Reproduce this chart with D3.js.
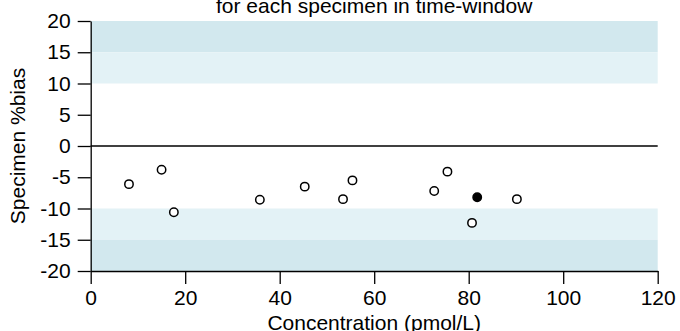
<!DOCTYPE html>
<html><head><meta charset="utf-8">
<script src="https://cdn.jsdelivr.net/npm/d3@7"></script>
<style>
html,body{margin:0;padding:0;background:#fff;}
svg{display:block;}
text{font-family:"Liberation Sans",Arial,Helvetica,sans-serif;fill:#000;}
</style></head>
<body>
<svg id="chart" width="680" height="331"></svg>
<script>
const concentration = [8.1, 15.0, 17.6, 35.8, 45.3, 53.4, 55.4, 72.7, 75.5, 80.7, 81.8, 90.2];
const biasPct       = [-6.1, -3.8, -10.6, -8.6, -6.5, -8.5, -5.5, -7.2, -4.1, -12.3, -8.2, -8.5];
const filledFlag    = [false, false, false, false, false, false, false, false, false, false, true, false];
const xTicks = [0, 20, 40, 60, 80, 100, 120];
const yTicks = [-20, -15, -10, -5, 0, 5, 10, 15, 20];
const bandLow  = [15, 10, -15, -20];
const bandHigh = [20, 15, -10, -15];
const bandKind = ["outer", "inner", "inner", "outer"];
const titleText = "for each specimen in time-window";
const xTitle = "Concentration (pmol/L)";
const yTitle = "Specimen %bias";

const svg = d3.select("#chart");
const L = 90.7, R = 657.7, T = 21, B = 271;
const x = d3.scaleLinear().domain([0, 120]).range([L, R]);
const y = d3.scaleLinear().domain([-20, 20]).range([B, T]);
const bandColor = {outer: "#d2e8ee", inner: "#e3f2f6"};
const FS = 21;

// bands
svg.append("g").selectAll("rect").data(bandLow).join("rect")
  .attr("x", x(0)).attr("width", x(120) - x(0))
  .attr("y", (d, i) => y(bandHigh[i]))
  .attr("height", (d, i) => y(bandLow[i]) - y(bandHigh[i]))
  .attr("fill", (d, i) => bandColor[bandKind[i]]);

// zero line
svg.append("line").attr("x1", x(0)).attr("x2", x(120))
  .attr("y1", y(0)).attr("y2", y(0)).attr("stroke", "#000").attr("stroke-width", 1.3);

// y axis
const yAxis = svg.append("g").attr("transform", `translate(${L},0)`)
  .call(d3.axisLeft(y).tickValues(yTicks).tickSize(13).tickSizeOuter(0).tickPadding(7).tickFormat(d3.format("d")));
// x axis
const xAxis = svg.append("g").attr("transform", `translate(0,${B})`)
  .call(d3.axisBottom(x).tickValues(xTicks).tickSize(13).tickSizeOuter(0).tickPadding(6).tickFormat(d3.format("d")));
[yAxis, xAxis].forEach(g => {
  g.selectAll("path.domain").attr("stroke", "#000").attr("stroke-width", 1.3);
  g.selectAll(".tick line").attr("stroke", "#000").attr("stroke-width", 1.3);
  g.selectAll(".tick text").attr("font-size", FS).attr("fill", "#000")
    .style("font-family", '"Liberation Sans",Arial,Helvetica,sans-serif');
});
yAxis.selectAll(".tick text").text(d => d < 0 ? "-" + Math.abs(d) : d);
yAxis.attr("font-size", FS);
xAxis.attr("font-size", FS);

// points
svg.append("g").selectAll("circle").data(concentration).join("circle")
  .attr("cx", d => x(d)).attr("cy", (d, i) => y(biasPct[i])).attr("r", 4.2)
  .attr("fill", (d, i) => filledFlag[i] ? "#000" : "#fff")
  .attr("stroke", "#000").attr("stroke-width", 1.5);

// titles
svg.append("text").attr("x", (L + R) / 2).attr("y", 13).attr("text-anchor", "middle")
  .attr("font-size", FS).text(titleText);
svg.append("text").attr("x", (L + R) / 2).attr("y", 330).attr("text-anchor", "middle")
  .attr("font-size", FS).text(xTitle);
svg.append("text").attr("transform", `translate(25,${(T + B) / 2}) rotate(-90)`)
  .attr("text-anchor", "middle").attr("font-size", FS).text(yTitle);
</script>
</body></html>
